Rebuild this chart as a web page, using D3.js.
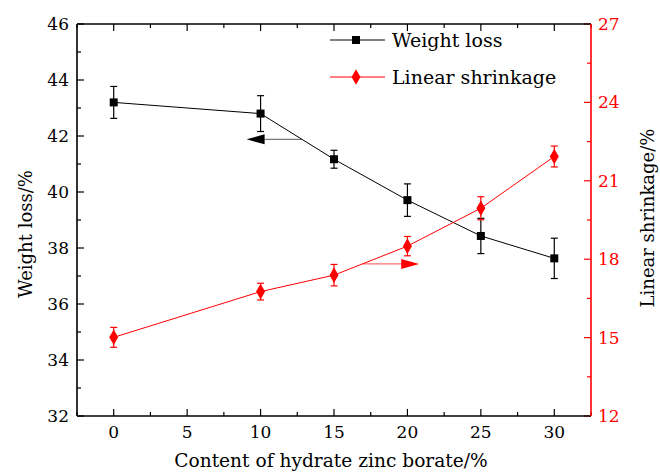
<!DOCTYPE html>
<html>
<head>
<meta charset="utf-8">
<script src="https://cdn.jsdelivr.net/npm/d3@7/dist/d3.min.js"></script>
<style>
  html, body { margin: 0; padding: 0; background: #fff; }
  svg { display: block; font-family: "DejaVu Serif", "Liberation Serif", serif; }
</style>
</head>
<body>
<svg id="chart" width="660" height="475"></svg>
<script>
// ---- data ----
const contents = [0, 10, 15, 20, 25, 30];
const weightLoss = [43.2, 42.8, 41.17, 39.71, 38.43, 37.63];
const weightLossErr = [0.57, 0.64, 0.32, 0.58, 0.63, 0.72];
const shrinkage = [15.01, 16.76, 17.39, 18.5, 19.95, 21.93];
const shrinkageErr = [0.38, 0.32, 0.41, 0.37, 0.44, 0.40];
const xTicks = [0, 5, 10, 15, 20, 25, 30];
const leftTicks = [32, 34, 36, 38, 40, 42, 44, 46];
const rightTicks = [12, 15, 18, 21, 24, 27];
const seriesNames = ["Weight loss", "Linear shrinkage"];
// annotation arrows, in data units: [x from, x to, y]
const leftArrow = [12.8, 9.05, 41.88];
const rightArrow = [16.95, 20.8, 17.82];

const svg = d3.select("#chart");
const L = 77, R = 591, T = 24, B = 416;
const red = "#ff0000";

const x = d3.scaleLinear().domain([-2.5, 32.5]).range([L, R]);
const yL = d3.scaleLinear().domain([32, 46]).range([B, T]);
const yR = d3.scaleLinear().domain([12, 27]).range([B, T]);

const tickFont = 17;

// minor ticks
const xMinor = d3.range(-2.5, 32.6, 2.5).filter(v => !xTicks.includes(v));
const lMinor = d3.range(33, 46, 2);
const rMinor = d3.range(13.5, 27, 3);

function ticksGroup(cls) { return svg.append("g").attr("class", cls); }

// bottom axis
const gB = ticksGroup("xaxis");
gB.selectAll("line.maj").data(xTicks).join("line")
  .attr("x1", d => x(d)).attr("x2", d => x(d)).attr("y1", B).attr("y2", B - 7)
  .attr("stroke", "#000").attr("stroke-width", 1.2);
gB.selectAll("line.min").data(xMinor).join("line")
  .attr("x1", d => x(d)).attr("x2", d => x(d)).attr("y1", B).attr("y2", B - 4)
  .attr("stroke", "#000").attr("stroke-width", 1.2);
gB.selectAll("text").data(xTicks).join("text")
  .attr("x", d => x(d)).attr("y", 438).attr("text-anchor", "middle")
  .attr("font-size", tickFont).attr("fill", "#000").text(d => d);

// top axis ticks
const gT = ticksGroup("xtop");
gT.selectAll("line.maj").data(xTicks).join("line")
  .attr("x1", d => x(d)).attr("x2", d => x(d)).attr("y1", T).attr("y2", T + 7)
  .attr("stroke", "#000").attr("stroke-width", 1.2);
gT.selectAll("line.min").data(xMinor).join("line")
  .attr("x1", d => x(d)).attr("x2", d => x(d)).attr("y1", T).attr("y2", T + 4)
  .attr("stroke", "#000").attr("stroke-width", 1.2);

// left axis
const gL = ticksGroup("yleft");
gL.selectAll("line.maj").data(leftTicks).join("line")
  .attr("x1", L).attr("x2", L + 7).attr("y1", d => yL(d)).attr("y2", d => yL(d))
  .attr("stroke", "#000").attr("stroke-width", 1.2);
gL.selectAll("line.min").data(lMinor).join("line")
  .attr("x1", L).attr("x2", L + 4).attr("y1", d => yL(d)).attr("y2", d => yL(d))
  .attr("stroke", "#000").attr("stroke-width", 1.2);
gL.selectAll("text").data(leftTicks).join("text")
  .attr("x", 69).attr("y", d => yL(d) + 6).attr("text-anchor", "end")
  .attr("font-size", tickFont).attr("fill", "#000").text(d => d);

// right axis
const gR = ticksGroup("yright");
gR.selectAll("line.maj").data(rightTicks).join("line")
  .attr("x1", R).attr("x2", R - 7).attr("y1", d => yR(d)).attr("y2", d => yR(d))
  .attr("stroke", red).attr("stroke-width", 1.2);
gR.selectAll("line.min").data(rMinor).join("line")
  .attr("x1", R).attr("x2", R - 4).attr("y1", d => yR(d)).attr("y2", d => yR(d))
  .attr("stroke", red).attr("stroke-width", 1.2);
gR.selectAll("text").data(rightTicks).join("text")
  .attr("x", 598).attr("y", d => yR(d) + 6).attr("text-anchor", "start")
  .attr("font-size", tickFont).attr("fill", red).text(d => d);

// frame
svg.append("line").attr("x1", L).attr("x2", R).attr("y1", T).attr("y2", T).attr("stroke", "#000").attr("stroke-width", 1.6);
svg.append("line").attr("x1", L).attr("x2", R).attr("y1", B).attr("y2", B).attr("stroke", "#000").attr("stroke-width", 1.6);
svg.append("line").attr("x1", L).attr("x2", L).attr("y1", T).attr("y2", B).attr("stroke", "#000").attr("stroke-width", 1.6);
svg.append("line").attr("x1", R).attr("x2", R).attr("y1", T).attr("y2", B).attr("stroke", red).attr("stroke-width", 1.6);

// axis titles
svg.append("text").attr("x", 331).attr("y", 467).attr("text-anchor", "middle")
  .attr("font-size", 18.6).attr("fill", "#000").text("Content of hydrate zinc borate/%");
svg.append("text").attr("transform", "translate(32,234) rotate(-90)").attr("text-anchor", "middle")
  .attr("font-size", 18).attr("fill", "#000").text("Weight loss/%");
svg.append("text").attr("transform", "translate(654,218) rotate(-90)").attr("text-anchor", "middle")
  .attr("font-size", 18).attr("fill", "#000").text("Linear shrinkage/%");

// arrows
function arrow(spec, yScale, shaftColor, headColor) {
  const [x0, x1, yv] = spec;
  const X0 = x(x0), X1 = x(x1), Y = yScale(yv);
  const dir = X1 > X0 ? 1 : -1;
  const headLen = 18, headHalf = 5;
  svg.append("line").attr("x1", X0).attr("x2", X1 - dir * headLen).attr("y1", Y).attr("y2", Y)
    .attr("stroke", shaftColor).attr("stroke-width", 1.2);
  svg.append("path")
    .attr("d", `M${X1},${Y} L${X1 - dir * headLen},${Y - headHalf} L${X1 - dir * headLen},${Y + headHalf} Z`)
    .attr("fill", headColor);
}
arrow(leftArrow, yL, "#777", "#000");
arrow(rightArrow, yR, "#ff7070", red);

// series
function drawSeries(vals, errs, yScale, color, symbolType, size) {
  const g = svg.append("g");
  const pts = contents.map((c, i) => ({ c, v: vals[i], e: errs[i] }));
  g.append("path").datum(pts)
    .attr("d", d3.line().x(d => x(d.c)).y(d => yScale(d.v)))
    .attr("fill", "none").attr("stroke", color).attr("stroke-width", 1);
  const eb = g.selectAll("g.eb").data(pts).join("g");
  eb.append("line").attr("x1", d => x(d.c)).attr("x2", d => x(d.c))
    .attr("y1", d => yScale(d.v + d.e)).attr("y2", d => yScale(d.v - d.e))
    .attr("stroke", color).attr("stroke-width", 1.2);
  [1, -1].forEach(s => {
    eb.append("line").attr("x1", d => x(d.c) - 3.5).attr("x2", d => x(d.c) + 3.5)
      .attr("y1", d => yScale(d.v + s * d.e)).attr("y2", d => yScale(d.v + s * d.e))
      .attr("stroke", color).attr("stroke-width", 1.2);
  });
  g.selectAll("path.m").data(pts).join("path")
    .attr("transform", d => `translate(${x(d.c)},${yScale(d.v)})`)
    .attr("d", d3.symbol().type(symbolType).size(size))
    .attr("fill", color);
}
drawSeries(weightLoss, weightLossErr, yL, "#000", d3.symbolSquare, 64);
drawSeries(shrinkage, shrinkageErr, yR, red, d3.symbolDiamond, 70);

// legend
const legend = svg.append("g");
const legItems = [
  { name: seriesNames[0], color: "#000", sym: d3.symbolSquare, size: 64, y: 40 },
  { name: seriesNames[1], color: red, sym: d3.symbolDiamond, size: 70, y: 77 }
];
legItems.forEach(it => {
  legend.append("line").attr("x1", 330).attr("x2", 385).attr("y1", it.y).attr("y2", it.y)
    .attr("stroke", it.color).attr("stroke-width", 1);
  legend.append("path").attr("transform", `translate(356,${it.y})`)
    .attr("d", d3.symbol().type(it.sym).size(it.size)).attr("fill", it.color);
  legend.append("text").attr("x", 392).attr("y", it.y + 7).attr("font-size", 19)
    .attr("fill", "#000").text(it.name);
});
</script>
</body>
</html>
